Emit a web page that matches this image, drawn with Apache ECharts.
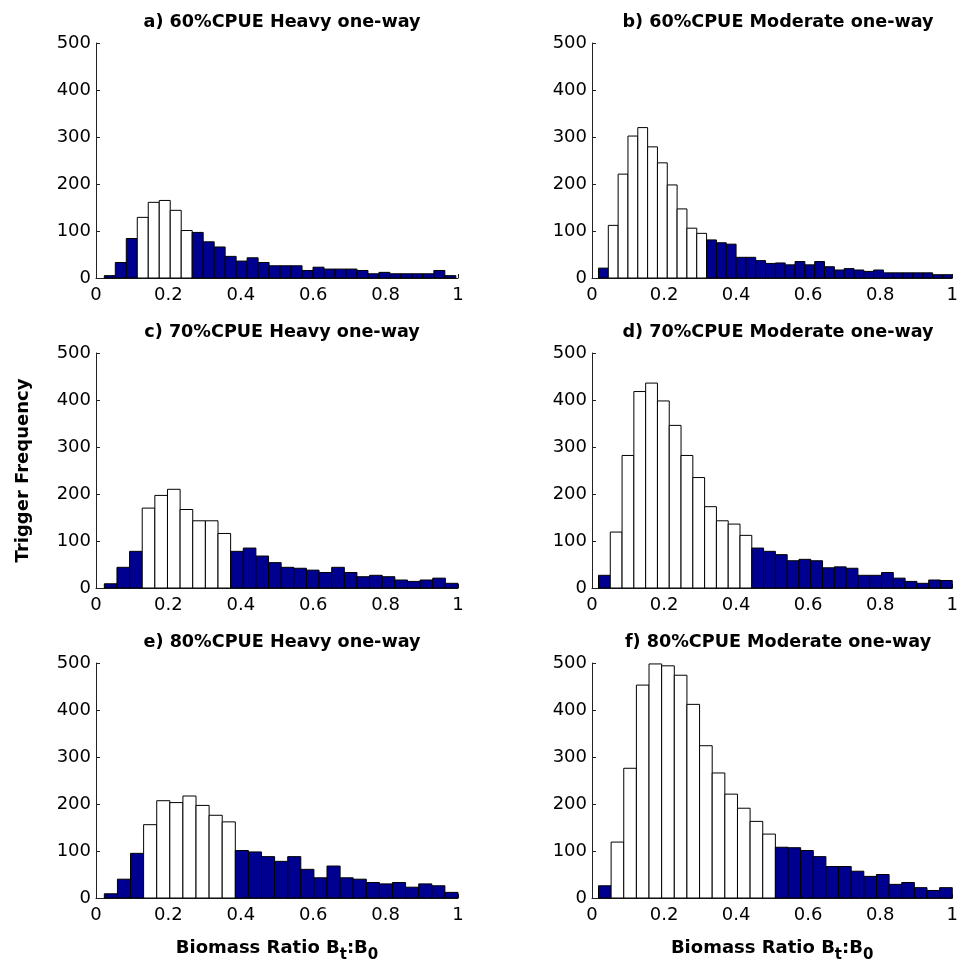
<!DOCTYPE html>
<html>
<head>
<meta charset="utf-8">
<script src="https://cdn.jsdelivr.net/npm/echarts@6/dist/echarts.min.js"></script>
<style>html,body{margin:0;padding:0;background:#fff}#c{width:961px;height:967px}</style>
</head>
<body>
<div id="c"></div>
<script>
// ---- data ----
const panelTitles = [
  'a) 60%CPUE Heavy one-way', 'b) 60%CPUE Moderate one-way',
  'c) 70%CPUE Heavy one-way', 'd) 70%CPUE Moderate one-way',
  'e) 80%CPUE Heavy one-way', 'f) 80%CPUE Moderate one-way'
];
const countsA = [5,33,84,129,161,165,144,101,97,77,66,46,36,43,33,26,26,26,16,23,19,19,19,16,9,12,9,9,9,9,16,5];
const countsB = [21,112,221,302,320,279,245,198,147,106,95,81,75,72,44,44,37,31,32,28,35,28,35,24,17,20,17,14,17,11,11,11,11,11,7,7];
const countsC = [9,44,78,170,197,210,167,143,143,116,78,85,68,54,44,42,38,33,44,33,24,27,24,17,14,17,21,10];
const countsD = [27,119,282,418,436,398,346,282,235,173,143,136,112,85,78,71,58,61,58,43,45,42,27,27,33,21,14,10,17,16];
const countsE = [9,40,95,156,207,203,217,197,176,162,101,98,88,78,88,61,43,68,43,40,33,30,33,23,30,26,12];
const countsF = [26,119,276,453,498,494,474,412,324,266,221,191,163,136,108,107,101,88,67,67,57,46,50,29,33,22,16,22];
// histogram range (first bin edge, last bin edge) for each panel
const rangeA = [0.023, 0.994];
const rangeB = [0.018, 1.0];
const rangeC = [0.023, 1.0];
const rangeD = [0.018, 1.0];
const rangeE = [0.023, 1.0];
const rangeF = [0.018, 1.0];
// first and last bin index (0-based) of the white (non-trigger) bars
const whiteA = [3, 7];
const whiteB = [1, 10];
const whiteC = [3, 9];
const whiteD = [1, 12];
const whiteE = [3, 9];
const whiteF = [1, 13];
const xTicks = [0, 0.2, 0.4, 0.6, 0.8, 1];
const yTicks = [0, 100, 200, 300, 400, 500];

const panels = [
  [countsA, rangeA, whiteA], [countsB, rangeB, whiteB],
  [countsC, rangeC, whiteC], [countsD, rangeD, whiteD],
  [countsE, rangeE, whiteE], [countsF, rangeF, whiteF]
];

// ---- layout ----
const FONT = 'DejaVu Sans, Liberation Sans, Arial, sans-serif';
const lefts = [96, 592];
const tops = [43, 353, 663];
const GW = 362, GH = 235;
const BLUE = '#000090';

const grids = [], xAxes = [], yAxes = [], series = [], titles = [];
panels.forEach((p, i) => {
  const col = i % 2, row = Math.floor(i / 2);
  grids.push({left: lefts[col], top: tops[row], width: GW, height: GH});
  const axisLine = {show: true, lineStyle: {color: '#222', width: 1}};
  const axisTick = {show: true, inside: true, length: 4, lineStyle: {color: '#222'}};
  const xa = {
    type: 'value', gridIndex: i, min: xTicks[0], max: xTicks[xTicks.length - 1],
    interval: xTicks[1] - xTicks[0],
    axisLine, axisTick, splitLine: {show: false},
    axisLabel: {color: '#000', fontSize: 18, fontFamily: FONT, margin: 8}
  };
  if (row === 2) {
    xa.name = '{m|Biomass Ratio B}{s|t}{m|:B}{s|0}';
    xa.nameLocation = 'middle';
    xa.nameGap = 36;
    xa.nameTextStyle = {
      rich: {
        m: {fontSize: 18, fontWeight: 'bold', fontFamily: FONT, color: '#000'},
        s: {fontSize: 15, fontWeight: 'bold', fontFamily: FONT, color: '#000', padding: [14, 0, 0, 0]}
      }
    };
  }
  xAxes.push(xa);
  const ya = {
    type: 'value', gridIndex: i, min: yTicks[0], max: yTicks[yTicks.length - 1],
    interval: yTicks[1] - yTicks[0],
    axisLine, axisTick, splitLine: {show: false},
    axisLabel: {color: '#000', fontSize: 18, fontFamily: FONT, margin: 5}
  };
  if (i === 2) {
    ya.name = 'Trigger Frequency';
    ya.nameLocation = 'middle';
    ya.nameGap = 64;
    ya.nameTextStyle = {fontSize: 18, fontWeight: 'bold', fontFamily: FONT, color: '#000'};
  }
  yAxes.push(ya);

  const counts = p[0], range = p[1], white = p[2];
  const bw = (range[1] - range[0]) / counts.length;
  const data = counts.map((v, k) => [
    range[0] + k * bw, range[0] + (k + 1) * bw, v, (k >= white[0] && k <= white[1]) ? 1 : 0
  ]);
  series.push({
    type: 'custom', xAxisIndex: i, yAxisIndex: i, data,
    encode: {x: [0, 1], y: 2},
    renderItem: function (params, api) {
      const a = api.coord([api.value(0), api.value(2)]);
      const b = api.coord([api.value(1), 0]);
      return {
        type: 'rect',
        shape: {x: a[0], y: a[1], width: b[0] - a[0], height: b[1] - a[1]},
        style: {fill: api.value(3) ? '#ffffff' : BLUE, stroke: '#000', lineWidth: 1}
      };
    }
  });

  titles.push({
    text: panelTitles[i], left: lefts[col] + GW / 2, top: tops[row] - 35, textAlign: 'center',
    textStyle: {fontSize: 17.6, fontWeight: 'bold', fontFamily: FONT, color: '#000'}
  });
});

const chart = echarts.init(document.getElementById('c'), null, {renderer: 'canvas'});
chart.setOption({
  animation: false,
  backgroundColor: '#fff',
  title: titles,
  grid: grids,
  xAxis: xAxes,
  yAxis: yAxes,
  series
});
</script>
</body>
</html>
